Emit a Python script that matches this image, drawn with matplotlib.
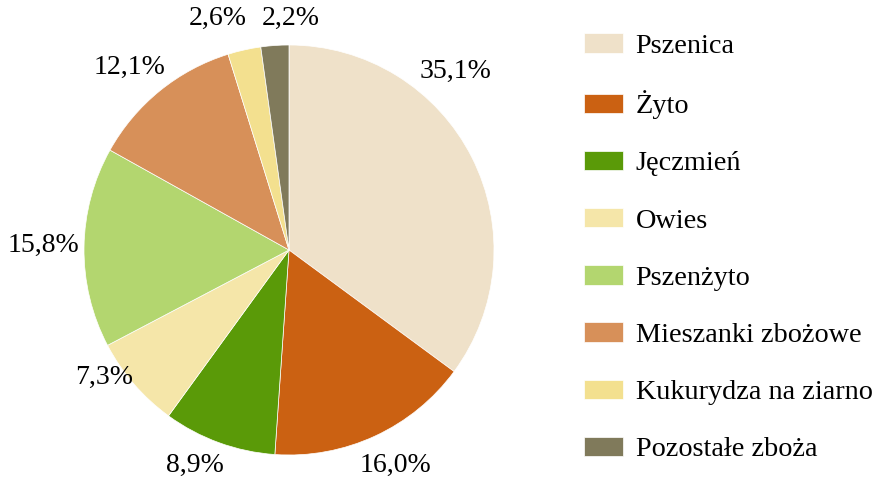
import matplotlib.pyplot as plt

plt.rcParams['font.family'] = ['Liberation Serif', 'DejaVu Serif']

labels = ['Pszenica', 'Żyto', 'Jęczmień', 'Owies', 'Pszenżyto',
          'Mieszanki zbożowe', 'Kukurydza na ziarno', 'Pozostałe zboża']
shares = [35.1, 16.0, 8.9, 7.3, 15.8, 12.1, 2.6, 2.2]
colors = ['#EFE1C9', '#CB6112', '#5A9A08', '#F5E6A9', '#B3D66F',
          '#D79059', '#F3E08F', '#807A5B']
# label placement (in pie radius units), like the outside-end labels of the original
label_pos = [(0.81, 0.87), (0.52, -1.05), (-0.46, -1.05), (-0.90, -0.62),
             (-1.20, 0.02), (-0.78, 0.89), (-0.35, 1.13), (0.01, 1.13)]

fig = plt.figure(figsize=(8.74, 4.78), dpi=100)
ax = fig.add_axes([84 / 874, 23 / 478, 410 / 874, 410 / 478])

wedges, texts, autotexts = ax.pie(
    shares, colors=colors, startangle=90, counterclock=False,
    autopct=lambda p: f"{p:.1f}%".replace('.', ','),
    pctdistance=1.15, radius=1.0,
    wedgeprops=dict(edgecolor='white', linewidth=0.5),
    textprops=dict(fontsize=20, color='black'))
for t, pos in zip(autotexts, label_pos):
    t.set_position(pos)
ax.set_aspect('equal')
ax.set_xlim(-1, 1)
ax.set_ylim(-1, 1)

fig.legend(wedges, labels, loc='upper left', bbox_to_anchor=(573 / 874, 1 - 22 / 478),
           frameon=False, fontsize=20.3, handlelength=1.37, handleheight=0.68,
           handletextpad=0.45, labelspacing=1.12, borderaxespad=0)

fig.savefig('out.png', dpi=100)
